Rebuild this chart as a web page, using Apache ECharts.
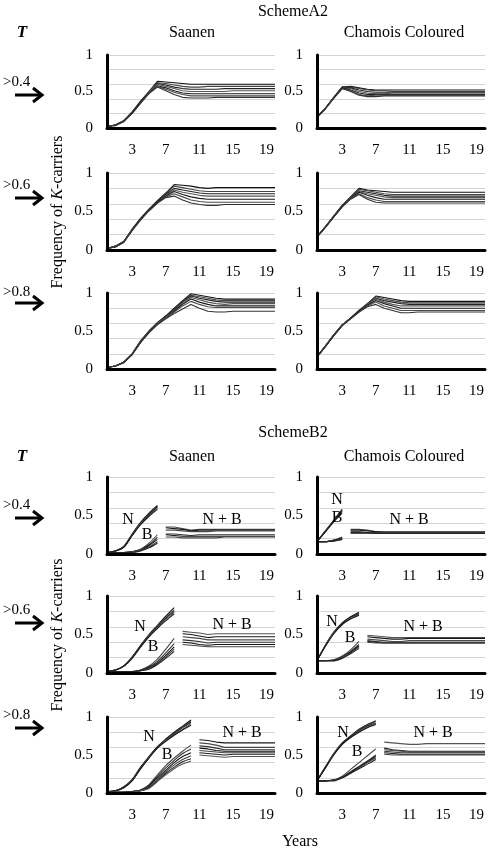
<!DOCTYPE html>
<html>
<head>
<meta charset="utf-8">
<script src="https://cdn.jsdelivr.net/npm/echarts@6/dist/echarts.min.js"></script>
<style>
html,body{margin:0;padding:0;background:#fff;}
#chart{width:488px;height:850px;}
</style>
</head>
<body>
<div id="chart"></div>
<script>
// ---------- DATA ----------
const years = ['0','1','2','3','4','5','6','7','8','9','10','11','12','13','14','15','16','17','18','19','20'];
const tickYears = ['3','7','11','15','19'];
const thresholds = ['>0.4', '>0.6', '>0.8'];
const breeds = ['Saanen', 'Chamois Coloured'];
const schemes = ['SchemeA2', 'SchemeB2'];

// Scheme A2 (years 0..20)
const a2Saanen04 = [
 [0.02,0.04,0.10,0.22,0.37,0.50,0.64,0.63,0.62,0.61,0.60,0.60,0.60,0.60,0.60,0.60,0.60,0.60,0.60,0.60,0.60],
 [0.02,0.04,0.10,0.22,0.36,0.50,0.62,0.61,0.59,0.57,0.56,0.56,0.57,0.57,0.57,0.57,0.57,0.57,0.57,0.57,0.57],
 [0.02,0.04,0.10,0.21,0.36,0.49,0.61,0.59,0.56,0.54,0.53,0.53,0.53,0.53,0.54,0.54,0.54,0.54,0.54,0.54,0.54],
 [0.02,0.04,0.10,0.21,0.35,0.49,0.60,0.57,0.54,0.51,0.50,0.50,0.50,0.50,0.50,0.51,0.51,0.51,0.51,0.51,0.51],
 [0.02,0.04,0.09,0.21,0.35,0.48,0.58,0.55,0.51,0.48,0.47,0.47,0.47,0.47,0.47,0.47,0.47,0.47,0.47,0.47,0.47],
 [0.02,0.04,0.09,0.20,0.34,0.48,0.57,0.53,0.49,0.46,0.44,0.44,0.44,0.44,0.44,0.44,0.44,0.44,0.44,0.44,0.44],
 [0.02,0.03,0.09,0.20,0.34,0.47,0.56,0.51,0.46,0.42,0.41,0.41,0.41,0.42,0.42,0.42,0.42,0.42,0.42,0.42,0.42]
];
const a2Chamois04 = [
 [0.15,0.27,0.42,0.56,0.57,0.55,0.53,0.52,0.52,0.52,0.52,0.52,0.52,0.52,0.52,0.52,0.52,0.52,0.52,0.52,0.52],
 [0.15,0.27,0.42,0.56,0.56,0.54,0.52,0.51,0.51,0.50,0.50,0.50,0.50,0.50,0.50,0.50,0.50,0.50,0.50,0.50,0.50],
 [0.15,0.27,0.42,0.56,0.55,0.52,0.50,0.49,0.49,0.49,0.49,0.49,0.49,0.49,0.49,0.49,0.49,0.49,0.49,0.49,0.49],
 [0.15,0.27,0.42,0.55,0.54,0.50,0.48,0.47,0.47,0.48,0.48,0.48,0.48,0.48,0.48,0.48,0.48,0.48,0.48,0.48,0.48],
 [0.15,0.27,0.41,0.55,0.52,0.48,0.46,0.46,0.46,0.46,0.46,0.46,0.46,0.46,0.46,0.46,0.46,0.46,0.46,0.46,0.46],
 [0.15,0.27,0.41,0.54,0.51,0.46,0.44,0.45,0.45,0.45,0.45,0.45,0.45,0.45,0.45,0.45,0.45,0.45,0.45,0.45,0.45],
 [0.15,0.26,0.41,0.54,0.50,0.45,0.43,0.43,0.44,0.44,0.44,0.44,0.44,0.44,0.44,0.44,0.44,0.44,0.44,0.44,0.44]
];
const a2Saanen06 = [
 [0.02,0.05,0.11,0.27,0.41,0.53,0.64,0.74,0.85,0.84,0.83,0.81,0.80,0.81,0.81,0.81,0.81,0.81,0.81,0.81,0.81],
 [0.02,0.05,0.11,0.27,0.41,0.53,0.63,0.73,0.83,0.81,0.79,0.77,0.76,0.76,0.76,0.76,0.76,0.76,0.76,0.76,0.76],
 [0.02,0.05,0.11,0.27,0.40,0.52,0.63,0.72,0.80,0.78,0.76,0.74,0.73,0.73,0.73,0.73,0.73,0.73,0.73,0.73,0.73],
 [0.02,0.05,0.11,0.26,0.40,0.52,0.62,0.71,0.78,0.75,0.73,0.71,0.70,0.70,0.70,0.70,0.70,0.70,0.70,0.70,0.70],
 [0.02,0.04,0.10,0.26,0.40,0.52,0.62,0.70,0.76,0.72,0.69,0.67,0.66,0.66,0.66,0.66,0.66,0.66,0.66,0.66,0.66],
 [0.02,0.04,0.10,0.26,0.39,0.51,0.61,0.69,0.73,0.69,0.65,0.63,0.62,0.62,0.62,0.62,0.62,0.62,0.62,0.62,0.62],
 [0.02,0.04,0.10,0.25,0.39,0.51,0.61,0.68,0.70,0.65,0.61,0.59,0.58,0.58,0.59,0.59,0.59,0.59,0.59,0.59,0.59]
];
const a2Chamois06 = [
 [0.17,0.30,0.44,0.58,0.69,0.80,0.78,0.77,0.76,0.75,0.75,0.75,0.75,0.75,0.75,0.75,0.75,0.75,0.75,0.75,0.75],
 [0.17,0.30,0.44,0.58,0.69,0.79,0.77,0.75,0.73,0.72,0.72,0.72,0.72,0.72,0.72,0.72,0.72,0.72,0.72,0.72,0.72],
 [0.17,0.30,0.44,0.57,0.68,0.77,0.75,0.73,0.71,0.70,0.70,0.70,0.70,0.70,0.70,0.70,0.70,0.70,0.70,0.70,0.70],
 [0.17,0.30,0.44,0.57,0.68,0.76,0.73,0.71,0.69,0.68,0.68,0.68,0.68,0.68,0.68,0.68,0.68,0.68,0.68,0.68,0.68],
 [0.17,0.30,0.43,0.57,0.67,0.75,0.71,0.68,0.66,0.66,0.66,0.66,0.66,0.66,0.66,0.66,0.66,0.66,0.66,0.66,0.66],
 [0.17,0.30,0.43,0.56,0.67,0.73,0.68,0.65,0.63,0.63,0.63,0.63,0.63,0.63,0.63,0.63,0.63,0.63,0.63,0.63,0.63],
 [0.17,0.29,0.43,0.56,0.66,0.72,0.66,0.62,0.61,0.61,0.61,0.61,0.61,0.61,0.61,0.61,0.61,0.61,0.61,0.61,0.61]
];
const a2Saanen08 = [
 [0.02,0.04,0.09,0.20,0.37,0.50,0.61,0.70,0.80,0.90,0.99,0.97,0.95,0.93,0.92,0.92,0.92,0.92,0.92,0.92,0.92],
 [0.02,0.04,0.09,0.20,0.37,0.50,0.61,0.69,0.79,0.89,0.97,0.95,0.93,0.91,0.90,0.90,0.90,0.90,0.90,0.90,0.90],
 [0.02,0.04,0.09,0.20,0.36,0.49,0.60,0.69,0.78,0.88,0.96,0.93,0.91,0.89,0.88,0.88,0.88,0.88,0.88,0.88,0.88],
 [0.02,0.04,0.09,0.20,0.36,0.49,0.60,0.68,0.77,0.86,0.94,0.91,0.88,0.86,0.85,0.86,0.86,0.86,0.86,0.86,0.86],
 [0.02,0.04,0.09,0.19,0.35,0.49,0.59,0.67,0.76,0.85,0.92,0.88,0.85,0.83,0.83,0.83,0.83,0.83,0.83,0.83,0.83],
 [0.02,0.04,0.09,0.19,0.35,0.48,0.59,0.67,0.75,0.83,0.89,0.85,0.82,0.81,0.81,0.81,0.81,0.81,0.81,0.81,0.81],
 [0.02,0.04,0.08,0.19,0.35,0.48,0.58,0.66,0.73,0.79,0.85,0.80,0.76,0.75,0.75,0.76,0.76,0.76,0.76,0.76,0.76]
];
const a2Chamois08 = [
 [0.16,0.30,0.45,0.58,0.67,0.77,0.86,0.96,0.94,0.92,0.90,0.89,0.89,0.89,0.89,0.89,0.89,0.89,0.89,0.89,0.89],
 [0.16,0.30,0.45,0.58,0.67,0.77,0.86,0.95,0.92,0.90,0.88,0.87,0.87,0.87,0.87,0.87,0.87,0.87,0.87,0.87,0.87],
 [0.16,0.30,0.45,0.58,0.67,0.76,0.85,0.93,0.90,0.88,0.86,0.85,0.85,0.85,0.85,0.85,0.85,0.85,0.85,0.85,0.85],
 [0.16,0.30,0.45,0.58,0.67,0.76,0.85,0.92,0.88,0.85,0.83,0.83,0.83,0.83,0.83,0.83,0.83,0.83,0.83,0.83,0.83],
 [0.16,0.30,0.44,0.57,0.67,0.76,0.84,0.90,0.86,0.83,0.80,0.80,0.80,0.80,0.80,0.80,0.80,0.80,0.80,0.80,0.80],
 [0.16,0.30,0.44,0.57,0.66,0.75,0.83,0.88,0.83,0.80,0.77,0.77,0.77,0.77,0.77,0.77,0.77,0.77,0.77,0.77,0.77],
 [0.16,0.29,0.44,0.57,0.66,0.75,0.82,0.85,0.80,0.77,0.74,0.74,0.75,0.75,0.75,0.75,0.75,0.75,0.75,0.75,0.75]
];

// Scheme B2: N and B lines run from year 0 to the last selection year; N + B lines start the year after.
const b2SaanenLastYear = [6, 8, 10];
const b2ChamoisLastYear = [3, 5, 7];

const b2Saanen04N = [
 [0.02,0.04,0.10,0.26,0.41,0.53,0.63],
 [0.02,0.04,0.10,0.25,0.40,0.52,0.62],
 [0.02,0.04,0.09,0.25,0.40,0.51,0.61],
 [0.02,0.04,0.09,0.24,0.39,0.50,0.60],
 [0.02,0.04,0.09,0.24,0.38,0.49,0.58]
];
const b2Saanen04B = [
 [0.02,0.02,0.02,0.03,0.06,0.14,0.25],
 [0.02,0.02,0.02,0.03,0.06,0.12,0.22],
 [0.02,0.02,0.02,0.03,0.05,0.11,0.19],
 [0.02,0.02,0.02,0.03,0.05,0.09,0.16],
 [0.02,0.02,0.02,0.02,0.04,0.08,0.14]
];
const b2Saanen04NB = [
 [0.35,0.35,0.33,0.31,0.32,0.32,0.32,0.32,0.32,0.32,0.32,0.32,0.32,0.32],
 [0.34,0.33,0.32,0.30,0.31,0.31,0.31,0.31,0.31,0.31,0.31,0.31,0.31,0.31],
 [0.31,0.31,0.30,0.29,0.29,0.29,0.30,0.30,0.30,0.30,0.30,0.30,0.30,0.30],
 [0.26,0.26,0.25,0.24,0.25,0.25,0.25,0.25,0.25,0.25,0.25,0.25,0.25,0.25],
 [0.25,0.24,0.23,0.23,0.23,0.23,0.23,0.23,0.23,0.23,0.23,0.23,0.23,0.23],
 [0.22,0.22,0.21,0.21,0.21,0.21,0.21,0.22,0.22,0.22,0.22,0.22,0.22,0.22]
];
const b2Chamois04N = [
 [0.16,0.30,0.44,0.58],
 [0.16,0.30,0.43,0.57],
 [0.16,0.29,0.43,0.56],
 [0.16,0.29,0.42,0.55],
 [0.16,0.29,0.42,0.53]
];
const b2Chamois04B = [
 [0.16,0.16,0.18,0.22],
 [0.16,0.16,0.18,0.21],
 [0.16,0.16,0.17,0.20],
 [0.16,0.16,0.17,0.19],
 [0.16,0.16,0.17,0.19]
];
const b2Chamois04NB = [
 [0.32,0.32,0.31,0.29,0.29,0.29,0.29,0.29,0.29,0.29,0.29,0.29,0.29,0.29,0.29,0.29,0.29],
 [0.31,0.31,0.30,0.29,0.28,0.28,0.28,0.28,0.28,0.28,0.28,0.28,0.28,0.28,0.28,0.28,0.28],
 [0.29,0.29,0.28,0.28,0.28,0.28,0.28,0.28,0.28,0.28,0.28,0.28,0.28,0.28,0.28,0.28,0.28],
 [0.28,0.28,0.28,0.27,0.27,0.27,0.27,0.27,0.27,0.27,0.27,0.27,0.27,0.27,0.27,0.27,0.27],
 [0.27,0.27,0.27,0.27,0.27,0.27,0.27,0.27,0.27,0.27,0.27,0.27,0.27,0.27,0.27,0.27,0.27]
];
const b2Saanen06N = [
 [0.02,0.04,0.09,0.21,0.36,0.50,0.62,0.74,0.85],
 [0.02,0.04,0.09,0.21,0.35,0.49,0.61,0.72,0.82],
 [0.02,0.04,0.09,0.20,0.35,0.48,0.60,0.71,0.80],
 [0.02,0.04,0.09,0.20,0.34,0.48,0.59,0.70,0.79],
 [0.02,0.04,0.09,0.19,0.34,0.47,0.58,0.68,0.77]
];
const b2Saanen06B = [
 [0.02,0.02,0.02,0.02,0.04,0.09,0.18,0.31,0.45],
 [0.02,0.02,0.02,0.02,0.04,0.08,0.15,0.26,0.38],
 [0.02,0.02,0.02,0.02,0.03,0.07,0.13,0.23,0.34],
 [0.02,0.02,0.02,0.02,0.03,0.06,0.12,0.21,0.31],
 [0.02,0.02,0.02,0.02,0.03,0.05,0.11,0.19,0.28]
];
const b2Saanen06NB = [
 [0.54,0.53,0.52,0.50,0.51,0.51,0.51,0.51,0.51,0.51,0.51,0.51],
 [0.51,0.50,0.48,0.46,0.47,0.47,0.47,0.47,0.47,0.47,0.47,0.47],
 [0.47,0.46,0.45,0.43,0.43,0.43,0.43,0.43,0.43,0.43,0.43,0.43],
 [0.43,0.42,0.41,0.39,0.40,0.40,0.40,0.40,0.40,0.40,0.40,0.40],
 [0.40,0.39,0.37,0.36,0.37,0.37,0.37,0.37,0.37,0.37,0.37,0.37],
 [0.37,0.36,0.35,0.34,0.34,0.34,0.34,0.34,0.34,0.34,0.34,0.34]
];
const b2Chamois06N = [
 [0.16,0.36,0.53,0.65,0.73,0.79],
 [0.16,0.36,0.53,0.64,0.72,0.78],
 [0.16,0.35,0.52,0.64,0.72,0.77],
 [0.16,0.35,0.52,0.63,0.71,0.76],
 [0.16,0.35,0.51,0.63,0.70,0.75]
];
const b2Chamois06B = [
 [0.16,0.16,0.17,0.22,0.30,0.41],
 [0.16,0.16,0.17,0.21,0.28,0.37],
 [0.16,0.16,0.16,0.20,0.27,0.35],
 [0.16,0.16,0.16,0.20,0.26,0.34],
 [0.16,0.16,0.16,0.19,0.25,0.32]
];
const b2Chamois06NB = [
 [0.49,0.48,0.47,0.46,0.46,0.46,0.46,0.46,0.46,0.46,0.46,0.46,0.46,0.46,0.46],
 [0.47,0.46,0.45,0.44,0.44,0.45,0.45,0.45,0.45,0.45,0.45,0.45,0.45,0.45,0.45],
 [0.44,0.43,0.42,0.41,0.41,0.42,0.42,0.42,0.42,0.42,0.42,0.42,0.42,0.42,0.42],
 [0.42,0.41,0.40,0.40,0.40,0.40,0.40,0.40,0.40,0.40,0.40,0.40,0.40,0.40,0.40],
 [0.41,0.40,0.39,0.39,0.39,0.39,0.39,0.39,0.39,0.39,0.39,0.39,0.39,0.39,0.39],
 [0.40,0.39,0.39,0.39,0.39,0.39,0.39,0.39,0.39,0.39,0.39,0.39,0.39,0.39,0.39]
];
const b2Saanen08N = [
 [0.02,0.03,0.08,0.18,0.34,0.48,0.61,0.71,0.80,0.88,0.96],
 [0.02,0.03,0.08,0.17,0.33,0.48,0.60,0.70,0.79,0.87,0.94],
 [0.02,0.03,0.08,0.17,0.33,0.47,0.60,0.69,0.78,0.86,0.93],
 [0.02,0.03,0.07,0.17,0.32,0.47,0.59,0.69,0.77,0.84,0.91],
 [0.02,0.03,0.07,0.16,0.32,0.46,0.59,0.68,0.76,0.83,0.89]
];
const b2Saanen08B = [
 [0.01,0.01,0.01,0.02,0.04,0.11,0.24,0.36,0.46,0.55,0.63],
 [0.01,0.01,0.01,0.02,0.04,0.10,0.22,0.33,0.43,0.52,0.58],
 [0.01,0.01,0.01,0.02,0.03,0.09,0.20,0.30,0.40,0.48,0.53],
 [0.01,0.01,0.01,0.02,0.03,0.08,0.18,0.28,0.37,0.44,0.49],
 [0.01,0.01,0.01,0.02,0.03,0.07,0.16,0.26,0.34,0.41,0.45],
 [0.01,0.01,0.01,0.01,0.03,0.06,0.15,0.24,0.32,0.38,0.42]
];
const b2Saanen08NB = [
 [0.70,0.69,0.67,0.66,0.66,0.66,0.66,0.66,0.66,0.66],
 [0.66,0.65,0.63,0.60,0.60,0.60,0.60,0.60,0.60,0.60],
 [0.62,0.61,0.59,0.57,0.57,0.57,0.57,0.57,0.57,0.57],
 [0.59,0.58,0.56,0.55,0.55,0.55,0.55,0.55,0.55,0.55],
 [0.56,0.55,0.54,0.53,0.53,0.53,0.53,0.53,0.53,0.53],
 [0.53,0.52,0.51,0.50,0.51,0.51,0.51,0.51,0.51,0.51],
 [0.50,0.49,0.48,0.47,0.48,0.48,0.48,0.48,0.48,0.48]
];
const b2Chamois08N = [
 [0.16,0.34,0.52,0.66,0.75,0.84,0.90,0.95],
 [0.16,0.34,0.52,0.65,0.75,0.83,0.89,0.94],
 [0.16,0.34,0.51,0.65,0.74,0.82,0.88,0.92],
 [0.16,0.33,0.51,0.64,0.73,0.81,0.87,0.91],
 [0.16,0.33,0.50,0.64,0.73,0.80,0.86,0.90]
];
const b2Chamois08B = [
 [0.16,0.16,0.17,0.22,0.31,0.40,0.49,0.58],
 [0.16,0.16,0.17,0.21,0.28,0.35,0.42,0.50],
 [0.16,0.16,0.17,0.20,0.27,0.34,0.41,0.48],
 [0.16,0.16,0.17,0.20,0.26,0.33,0.40,0.46],
 [0.16,0.16,0.16,0.20,0.26,0.32,0.38,0.44]
];
const b2Chamois08NB = [
 [0.67,0.66,0.65,0.64,0.64,0.65,0.65,0.65,0.65,0.65,0.65,0.65,0.65],
 [0.59,0.57,0.56,0.55,0.55,0.55,0.55,0.55,0.55,0.55,0.55,0.55,0.55],
 [0.57,0.56,0.55,0.54,0.54,0.54,0.54,0.54,0.54,0.54,0.54,0.54,0.54],
 [0.55,0.54,0.53,0.53,0.53,0.53,0.53,0.53,0.53,0.53,0.53,0.53,0.53],
 [0.53,0.52,0.51,0.51,0.51,0.51,0.51,0.51,0.51,0.51,0.51,0.51,0.51],
 [0.51,0.50,0.50,0.50,0.50,0.50,0.50,0.50,0.50,0.50,0.50,0.50,0.50]
];

// ---------- LAYOUT ----------
const FONT = 'Liberation Serif, Times New Roman, serif';
const colLeft = [107, 317];
const plotW = 168;
const rowTop = [55, 173, 293, 477, 596, 717];
const rowH = [73, 77, 76, 77, 77, 76];
const lineColors = ['#111111', '#444444', '#222222', '#555555', '#1a1a1a', '#4a4a4a', '#333333'];

function pad(arr, start) {
  const out = [];
  for (let i = 0; i < years.length; i++) {
    const k = i - start;
    out.push(k >= 0 && k < arr.length ? arr[k] : null);
  }
  return out;
}

const panels = [
  {row: 0, col: 0, groups: [{lines: a2Saanen04, start: 0}]},
  {row: 0, col: 1, groups: [{lines: a2Chamois04, start: 0}]},
  {row: 1, col: 0, groups: [{lines: a2Saanen06, start: 0}]},
  {row: 1, col: 1, groups: [{lines: a2Chamois06, start: 0}]},
  {row: 2, col: 0, groups: [{lines: a2Saanen08, start: 0}]},
  {row: 2, col: 1, groups: [{lines: a2Chamois08, start: 0}]},
  {row: 3, col: 0, groups: [{lines: b2Saanen04N, start: 0, smooth: true}, {lines: b2Saanen04B, start: 0, smooth: true}, {lines: b2Saanen04NB, start: b2SaanenLastYear[0] + 1}]},
  {row: 3, col: 1, groups: [{lines: b2Chamois04N, start: 0, smooth: true}, {lines: b2Chamois04B, start: 0, smooth: true}, {lines: b2Chamois04NB, start: b2ChamoisLastYear[0] + 1}]},
  {row: 4, col: 0, groups: [{lines: b2Saanen06N, start: 0, smooth: true}, {lines: b2Saanen06B, start: 0, smooth: true}, {lines: b2Saanen06NB, start: b2SaanenLastYear[1] + 1}]},
  {row: 4, col: 1, groups: [{lines: b2Chamois06N, start: 0, smooth: true}, {lines: b2Chamois06B, start: 0, smooth: true}, {lines: b2Chamois06NB, start: b2ChamoisLastYear[1] + 1}]},
  {row: 5, col: 0, groups: [{lines: b2Saanen08N, start: 0, smooth: true}, {lines: b2Saanen08B, start: 0, smooth: true}, {lines: b2Saanen08NB, start: b2SaanenLastYear[2] + 1}]},
  {row: 5, col: 1, groups: [{lines: b2Chamois08N, start: 0, smooth: true}, {lines: b2Chamois08B, start: 0, smooth: true}, {lines: b2Chamois08NB, start: b2ChamoisLastYear[2] + 1}]}
];

const grid = [], xAxis = [], yAxis = [], series = [];
panels.forEach((p, gi) => {
  grid.push({left: colLeft[p.col], top: rowTop[p.row], width: plotW, height: rowH[p.row]});
  xAxis.push({
    type: 'category', gridIndex: gi, data: years, boundaryGap: false,
    axisLine: {show: true, lineStyle: {color: '#000', width: 3}},
    axisTick: {show: false},
    splitLine: {show: false},
    axisLabel: {
      interval: (idx, val) => tickYears.includes(val),
      margin: 15, color: '#000', fontSize: 15, fontFamily: FONT
    },
    z: 5
  });
  // gridline axis
  yAxis.push({
    type: 'value', gridIndex: gi, position: 'left', min: 0, max: 1, interval: 0.2,
    axisLine: {show: false}, axisTick: {show: false}, axisLabel: {show: false},
    splitLine: {show: true, lineStyle: {color: '#d4d4d4', width: 1}}
  });
  // label axis
  yAxis.push({
    type: 'value', gridIndex: gi, position: 'left', offset: 0, min: 0, max: 1, interval: 0.5,
    axisLine: {show: true, onZero: false, lineStyle: {color: '#000', width: 3}},
    axisTick: {show: false}, splitLine: {show: false},
    axisLabel: {margin: 14, color: '#000', fontSize: 15, fontFamily: FONT},
    z: 5
  });
  let c = 0;
  p.groups.forEach(g => {
    g.lines.forEach(line => {
      series.push({
        type: 'line', xAxisIndex: gi, yAxisIndex: gi * 2,
        data: pad(line, g.start),
        showSymbol: false, symbol: 'none',
        smooth: g.smooth ? 0.3 : false,
        connectNulls: false,
        lineStyle: {color: lineColors[c % lineColors.length], width: 1.1},
        silent: true, animation: false, z: 3
      });
      c++;
    });
  });
});

// ---------- GRAPHIC TEXTS ----------
const graphic = [];
function txt(text, x, y, opts) {
  opts = opts || {};
  graphic.push({
    type: 'text', x: x, y: y, rotation: opts.rotation || 0, z: 10,
    style: Object.assign({
      text: text, fill: '#000', fontSize: opts.fontSize || 16, fontFamily: FONT,
      fontStyle: opts.fontStyle || 'normal', fontWeight: opts.fontWeight || 'normal',
      align: opts.align || 'center', verticalAlign: 'middle',
      textAlign: opts.align || 'center', textVerticalAlign: 'middle'
    }, opts.rich ? {rich: opts.rich} : {})
  });
}
function arrow(y) {
  graphic.push({type: 'line', z: 10, shape: {x1: 15, y1: y, x2: 41, y2: y}, style: {stroke: '#000', lineWidth: 3}});
  graphic.push({type: 'polyline', z: 10, shape: {points: [[33, y - 7], [42, y], [33, y + 7]]}, style: {stroke: '#000', lineWidth: 3, fill: null}});
}

const sectionTitleY = [12, 433];
const headerY = [33, 457];
const threshY = [82, 185, 292, 505, 610, 715];
const arrowY = [95, 198, 303, 518, 623, 728];
const yTitleY = [212, 635];

for (let s = 0; s < 2; s++) {
  txt(schemes[s], 293, sectionTitleY[s], {fontSize: 16});
  txt('T', 22, headerY[s], {fontStyle: 'italic', fontWeight: 'bold', fontSize: 17});
  txt(breeds[0], 192, headerY[s], {fontSize: 16});
  txt(breeds[1], 404, headerY[s], {fontSize: 16});
  txt('{a|Frequency of }{k|K}{a|-carriers}', 58, yTitleY[s], {
    rotation: Math.PI / 2,
    rich: {
      a: {fontSize: 16, fontFamily: FONT, fill: '#000'},
      k: {fontSize: 16, fontFamily: FONT, fontStyle: 'italic', fill: '#000'}
    }
  });
}
for (let r = 0; r < 6; r++) {
  txt(thresholds[r % 3], 3, threshY[r], {align: 'left', fontSize: 15});
  arrow(arrowY[r]);
}
txt('Years', 300, 842, {fontSize: 16});

// N, B and N + B labels in Scheme B2 panels
const nbLabels = [
  ['N', 128, 520], ['B', 147, 535], ['N + B', 222, 520],
  ['N', 337, 500], ['B', 337, 518], ['N + B', 409, 520],
  ['N', 140, 627], ['B', 153, 647], ['N + B', 232, 625],
  ['N', 332, 622], ['B', 350, 638], ['N + B', 423, 627],
  ['N', 149, 737], ['B', 167, 755], ['N + B', 242, 733],
  ['N', 343, 733], ['B', 357, 752], ['N + B', 433, 733]
];
nbLabels.forEach(l => txt(l[0], l[1], l[2], {fontSize: 16}));

const chart = echarts.init(document.getElementById('chart'), null, {renderer: 'canvas'});
chart.setOption({
  animation: false,
  backgroundColor: '#fff',
  grid: grid, xAxis: xAxis, yAxis: yAxis, series: series, graphic: graphic
});
</script>
</body>
</html>
